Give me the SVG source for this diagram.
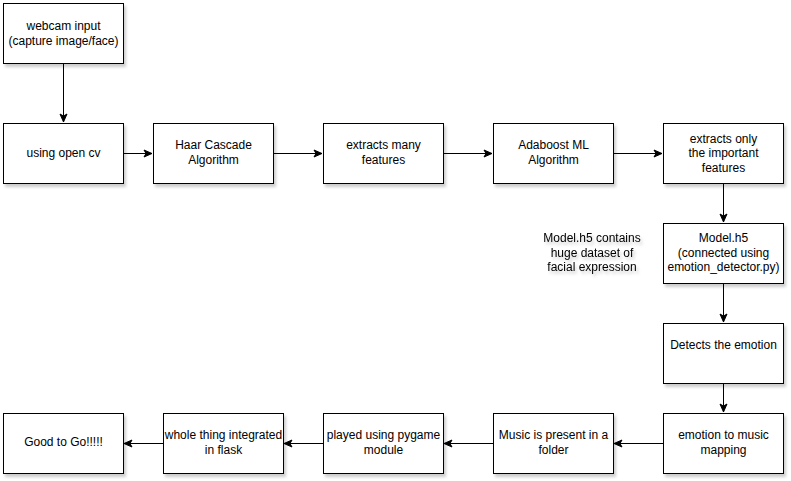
<svg xmlns="http://www.w3.org/2000/svg" width="791" height="481" viewBox="0 0 791 481">
<style>
.box{fill:#fff;stroke:#000;stroke-width:1;filter:url(#sh)}
.t{font-family:"Liberation Sans",Arial,sans-serif;font-size:12px;fill:#000;text-anchor:middle}
.e{fill:none;stroke:#000;stroke-width:1}
</style>
<defs>
<filter id="sh" x="-10%" y="-10%" width="130%" height="140%">
<feDropShadow dx="2" dy="3" stdDeviation="1.5" flood-color="#000" flood-opacity="0.2"/>
</filter>
<marker id="a" viewBox="0 0 10 10" refX="9" refY="5" markerWidth="10" markerHeight="10" markerUnits="userSpaceOnUse" orient="auto">
<path d="M1,1.5 L9,5 L1,8.5 L3,5 Z" fill="#000" stroke="#000" stroke-width="1"/>
</marker>
</defs>
<rect width="791" height="481" fill="#fff"/>
<g id="edges">
<path class="e" d="M63.5,63.5 V122" marker-end="url(#a)"/>
<path class="e" d="M123.5,153.5 H152" marker-end="url(#a)"/>
<path class="e" d="M273.5,153.5 H322" marker-end="url(#a)"/>
<path class="e" d="M443.5,153.5 H492" marker-end="url(#a)"/>
<path class="e" d="M613.5,153.5 H662" marker-end="url(#a)"/>
<path class="e" d="M723.5,183.5 V222" marker-end="url(#a)"/>
<path class="e" d="M723.5,283.5 V322" marker-end="url(#a)"/>
<path class="e" d="M723.5,383.5 V412" marker-end="url(#a)"/>
<path class="e" d="M663,443.5 H614" marker-end="url(#a)"/>
<path class="e" d="M493,443.5 H444" marker-end="url(#a)"/>
<path class="e" d="M323,443.5 H284" marker-end="url(#a)"/>
<path class="e" d="M163,443.5 H124" marker-end="url(#a)"/>
</g>
<g id="webcam"><rect class="box" x="3.5" y="3.5" width="120" height="60"/><text class="t" x="63.5" y="30">webcam input</text><text class="t" x="63.5" y="45">(capture image/face)</text></g>
<g id="opencv"><rect class="box" x="3.5" y="123.5" width="120" height="60"/><text class="t" x="63.5" y="157">using open cv</text></g>
<g id="haar"><rect class="box" x="153.5" y="123.5" width="120" height="60"/><text class="t" x="213.5" y="149">Haar Cascade</text><text class="t" x="213.5" y="164">Algorithm</text></g>
<g id="extractmany"><rect class="box" x="323.5" y="123.5" width="120" height="60"/><text class="t" x="383.5" y="149">extracts many</text><text class="t" x="383.5" y="164">features</text></g>
<g id="adaboost"><rect class="box" x="493.5" y="123.5" width="120" height="60"/><text class="t" x="553.5" y="149">Adaboost ML</text><text class="t" x="553.5" y="164">Algorithm</text></g>
<g id="extractonly"><rect class="box" x="663.5" y="123.5" width="120" height="60"/><text class="t" x="723.5" y="142.5">extracts only</text><text class="t" x="723.5" y="157">the important</text><text class="t" x="723.5" y="171.5">features</text></g>
<g id="modelnote"><text class="t" x="592" y="242" style="filter:url(#sh)">Model.h5 contains</text><text class="t" x="592" y="256.5" style="filter:url(#sh)">huge dataset of</text><text class="t" x="592" y="271" style="filter:url(#sh)">facial expression</text></g>
<g id="model"><rect class="box" x="663.5" y="223.5" width="120" height="60"/><text class="t" x="723.5" y="242">Model.h5</text><text class="t" x="723.5" y="256.5">(connected using</text><text class="t" x="723.5" y="271">emotion_detector.py)</text></g>
<g id="detects"><rect class="box" x="663.5" y="323.5" width="120" height="60"/><text class="t" x="723.5" y="349">Detects the emotion</text></g>
<g id="mapping"><rect class="box" x="663.5" y="413.5" width="120" height="60"/><text class="t" x="723.5" y="439">emotion to music</text><text class="t" x="723.5" y="454">mapping</text></g>
<g id="folder"><rect class="box" x="493.5" y="413.5" width="120" height="60"/><text class="t" x="553.5" y="439">Music is present in a</text><text class="t" x="553.5" y="454">folder</text></g>
<g id="pygame"><rect class="box" x="323.5" y="413.5" width="120" height="60"/><text class="t" x="383.5" y="439">played using pygame</text><text class="t" x="383.5" y="454">module</text></g>
<g id="flask"><rect class="box" x="163.5" y="413.5" width="120" height="60"/><text class="t" x="223.5" y="439">whole thing integrated</text><text class="t" x="223.5" y="454">in flask</text></g>
<g id="good"><rect class="box" x="3.5" y="413.5" width="120" height="60"/><text class="t" x="63.5" y="446">Good to Go!!!!!</text></g>
</svg>
